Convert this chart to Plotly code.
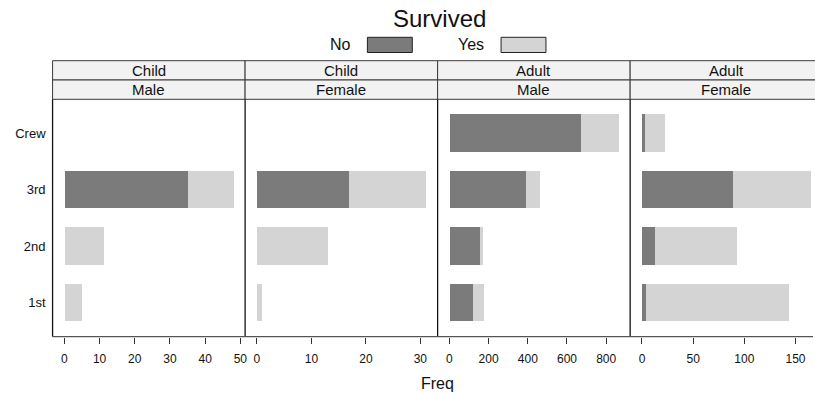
import plotly.graph_objects as go

# Titanic passengers: frequency by class, split into panels by age and sex
classes = ["1st", "2nd", "3rd", "Crew"]
survived_levels = ["No", "Yes"]
panel_age = ["Child", "Child", "Adult", "Adult"]
panel_sex = ["Male", "Female", "Male", "Female"]

no_counts = [
    [0, 0, 35, 0],
    [0, 0, 17, 0],
    [118, 154, 387, 670],
    [4, 13, 89, 3],
]
yes_counts = [
    [5, 11, 13, 0],
    [1, 13, 14, 0],
    [57, 14, 75, 192],
    [140, 80, 76, 20],
]
x_tick_values = [
    [0, 10, 20, 30, 40, 50],
    [0, 10, 20, 30],
    [0, 200, 400, 600, 800],
    [0, 50, 100, 150],
]

fill_colors = ["#7b7b7b", "#d4d4d4"]
FONT = "Liberation Sans, Arial, Helvetica, sans-serif"

W, H = 815, 394
panel_left = 52.7
panel_width = 193.0
strip_top, strip_mid, strip_bottom = 60.7, 80.0, 99.3
panel_bottom = 336.7
pad = 0.07


def px(x):
    return x / W


def py(y):
    return 1 - y / H


fig = go.Figure()
shapes = []
annotations = []
layout_axes = {}

for i in range(4):
    xa = "x" if i == 0 else f"x{i + 1}"
    ya = "y" if i == 0 else f"y{i + 1}"
    left = panel_left + i * panel_width
    right = left + panel_width

    totals = [n + y for n, y in zip(no_counts[i], yes_counts[i])]
    lo, hi = 0.0, float(max(totals))
    span = hi - lo
    r_lo, r_hi = lo - pad * span, hi + pad * span
    # the last panel runs past the page edge: keep the same scale, trim the range
    dom_right = right
    if right > W:
        r_hi = r_lo + (r_hi - r_lo) * (W - left) / panel_width
        dom_right = W

    for level, counts, color in zip(survived_levels, [no_counts[i], yes_counts[i]], fill_colors):
        fig.add_trace(go.Bar(
            orientation="h", y=classes, x=counts, name=level,
            marker=dict(color=color, line=dict(width=0)),
            width=2 / 3, xaxis=xa, yaxis=ya, showlegend=False,
        ))

    xkey = "xaxis" if i == 0 else f"xaxis{i + 1}"
    ykey = "yaxis" if i == 0 else f"yaxis{i + 1}"
    layout_axes[xkey] = dict(
        domain=[px(left), px(dom_right)], anchor=ya, range=[r_lo, r_hi],
        tickvals=x_tick_values[i], ticks="outside", ticklen=6, tickcolor="#333333",
        tickwidth=1, showgrid=False, zeroline=False, showline=False,
        tickfont=dict(size=12, color="#111111", family=FONT),
        ticklabelstandoff=5,
    )
    layout_axes[ykey] = dict(
        domain=[py(panel_bottom), py(strip_bottom)], anchor=xa,
        type="category", categoryorder="array", categoryarray=classes,
        range=[-0.6, len(classes) - 0.4], showgrid=False, zeroline=False,
        showline=False, ticks="", showticklabels=(i == 0),
        tickfont=dict(size=13, color="#111111", family=FONT),
        ticklabelstandoff=6,
    )

    # strips
    for (y0, y1, text) in [(strip_top, strip_mid, panel_age[i]), (strip_mid, strip_bottom, panel_sex[i])]:
        shapes.append(dict(type="rect", xref="paper", yref="paper",
                           x0=px(left), x1=px(right), y0=py(y1), y1=py(y0),
                           fillcolor="#f2f2f2", line=dict(color="#3a3a3a", width=1), layer="below"))
        annotations.append(dict(xref="paper", yref="paper", x=px((left + right) / 2), y=py((y0 + y1) / 2),
                                text=text, showarrow=False, xanchor="center", yanchor="middle",
                                font=dict(size=15, color="#111111", family=FONT)))
    # left border of panel
    shapes.append(dict(type="line", xref="paper", yref="paper",
                       x0=px(left), x1=px(left), y0=py(panel_bottom), y1=py(strip_bottom),
                       line=dict(color="#111111", width=1.3)))

# bottom axis line across all panels
shapes.append(dict(type="line", xref="paper", yref="paper",
                   x0=px(panel_left), x1=1, y0=py(panel_bottom), y1=py(panel_bottom),
                   line=dict(color="#555555", width=1.3)))

# key: title, labels and swatches
annotations.append(dict(xref="paper", yref="paper", x=px(440.8), y=py(19), text="Survived",
                        showarrow=False, xanchor="center", yanchor="middle",
                        font=dict(size=24, color="#111111", family=FONT)))
key_text_x = [341, 472.5]
key_box = [(368.3, 413.3), (502.3, 547.3)]
for level, tx, (b0, b1), color in zip(survived_levels, key_text_x, key_box, fill_colors):
    annotations.append(dict(xref="paper", yref="paper", x=px(tx), y=py(45), text=level,
                            showarrow=False, xanchor="center", yanchor="middle",
                            font=dict(size=16, color="#111111", family=FONT)))
    shapes.append(dict(type="rect", xref="paper", yref="paper",
                       x0=px(b0), x1=px(b1), y0=py(52.5), y1=py(37.3),
                       fillcolor=color, line=dict(color="#222222", width=1)))

annotations.append(dict(xref="paper", yref="paper", x=px(439), y=py(383), text="Freq",
                        showarrow=False, xanchor="center", yanchor="middle",
                        font=dict(size=16, color="#111111", family=FONT)))

fig.update_layout(
    width=W, height=H, margin=dict(l=0, r=0, t=0, b=0),
    paper_bgcolor="white", plot_bgcolor="rgba(0,0,0,0)",
    barmode="stack", bargap=0, showlegend=False,
    shapes=shapes, annotations=annotations,
    font=dict(family=FONT, color="#111111"),
    **layout_axes,
)

fig.write_html("out.html")
